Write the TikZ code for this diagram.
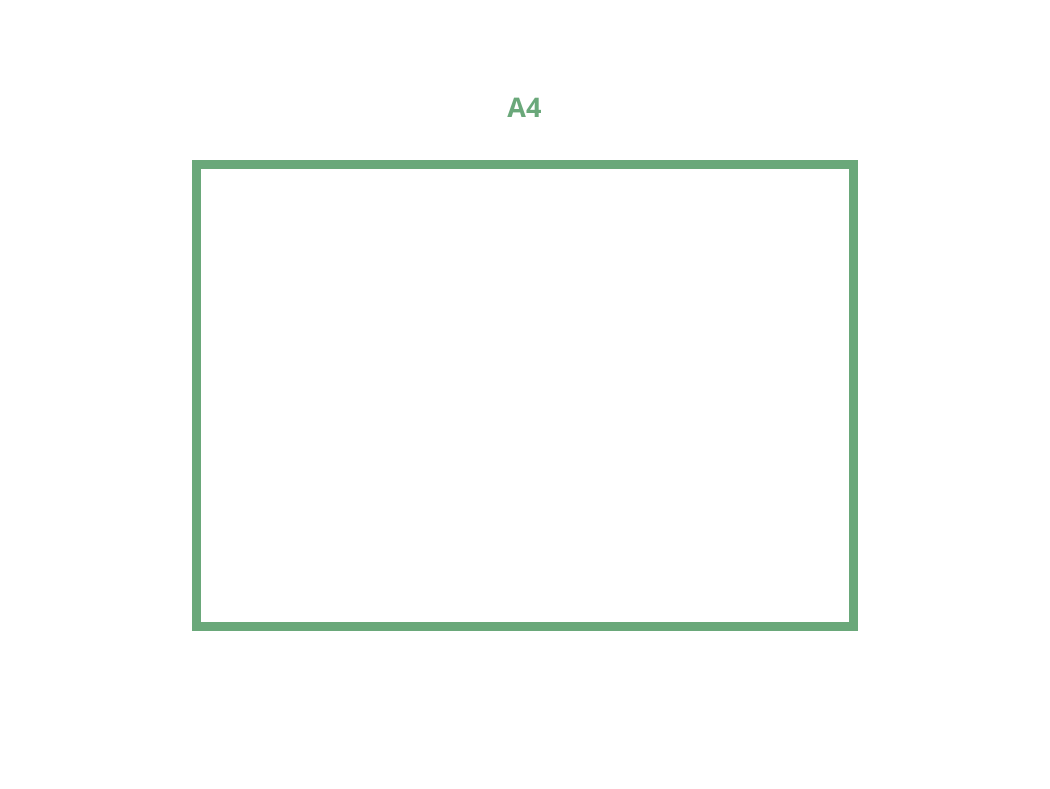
\documentclass[tikz,border=0pt]{standalone}
\usepackage{fontspec}
\setmainfont{Open Sans}
\definecolor{pagegreen}{RGB}{106,168,122}
\tikzset{
  pageframe/.style={draw=pagegreen, line width=9pt},
  pagelabel/.style={text=pagegreen, font=\fontsize{27}{30}\selectfont\bfseries, inner sep=0pt, anchor=base}
}
\begin{document}
\begin{tikzpicture}[x=1pt,y=-1pt]
\useasboundingbox (0,0) rectangle (1050,788);
\node[pageframe, minimum width=657pt, minimum height=462pt, inner sep=0pt] (page) at (524.5,395) {};
\node[pagelabel] (label) at (524.5,117) {A4};
\end{tikzpicture}
\end{document}
